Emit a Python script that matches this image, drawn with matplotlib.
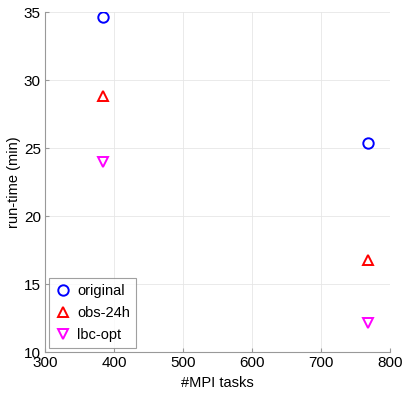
import matplotlib
matplotlib.use("Agg")
import matplotlib.pyplot as plt

plt.rcParams['font.family'] = ['Liberation Sans', 'DejaVu Sans']

tasks = [384, 768]
original = [34.6, 25.4]
obs24h = [28.8, 16.8]
lbcopt = [24.0, 12.1]
labels = ['original', 'obs-24h', 'lbc-opt']

fig = plt.figure(figsize=(4.09, 3.95), dpi=100)
ax = fig.add_axes([45/409, 1-352/395, 345/409, 340/395])

ax.plot(tasks, original, 'o', ms=7.5, mfc='none', mec='#0000ff', mew=1.4, ls='none', label=labels[0])
ax.plot(tasks, obs24h, '^', ms=7.5, mfc='none', mec='#ff0000', mew=1.4, ls='none', label=labels[1])
ax.plot(tasks, lbcopt, 'v', ms=7.5, mfc='none', mec='#ff00ff', mew=1.4, ls='none', label=labels[2])

ax.set_xlim(300, 800)
ax.set_ylim(10, 35)
ax.set_xticks([300, 400, 500, 600, 700, 800])
ax.set_yticks([10, 15, 20, 25, 30, 35])
ax.grid(True, color='#e6e6e6', lw=0.6)
ax.set_axisbelow(True)
for s in ['top', 'right']:
    ax.spines[s].set_visible(False)
for s in ['left', 'bottom']:
    ax.spines[s].set_color('#999999')
ax.tick_params(direction='in', length=3, color='#999999', labelsize=11, pad=3)
ax.set_xlabel('#MPI tasks', fontsize=10.5, labelpad=4)
ax.set_ylabel('run-time (min)', fontsize=10.5, labelpad=2)

leg = ax.legend(loc='lower left', fontsize=10.5, frameon=True, fancybox=False,
                edgecolor='#888888', handlelength=1.0, handletextpad=0.5,
                borderaxespad=0.3, labelspacing=0.55, borderpad=0.4)
leg.get_frame().set_linewidth(0.8)

fig.savefig('out.png', dpi=100)
